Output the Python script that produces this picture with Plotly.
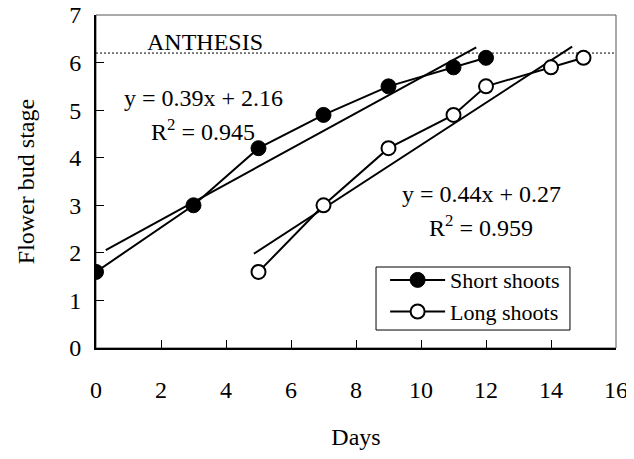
import numpy as np
import plotly.graph_objects as go

short_days = [0, 3, 5, 7, 9, 11, 12]
short_stage = [1.6, 3.0, 4.2, 4.9, 5.5, 5.9, 6.1]
long_days = [5, 7, 9, 11, 12, 14, 15]
long_stage = [1.6, 3.0, 4.2, 4.9, 5.5, 5.9, 6.1]
short_fit_range = [0.3, 11.7]
long_fit_range = [4.86, 14.65]
anthesis_stage = 6.2
x_ticks = list(range(0, 17, 2))
y_ticks = list(range(0, 8))

FONT = "Liberation Serif"

def fit_line(xs, ys, xr):
    k, b = np.polyfit(xs, ys, 1)
    xx = np.array(xr)
    return xx, k * xx + b

fig = go.Figure()

sx, sy = fit_line(short_days, short_stage, short_fit_range)
lx, ly = fit_line(long_days, long_stage, long_fit_range)
fig.add_trace(go.Scatter(x=sx, y=sy, mode="lines", line=dict(color="black", width=2), showlegend=False, hoverinfo="skip"))
fig.add_trace(go.Scatter(x=lx, y=ly, mode="lines", line=dict(color="black", width=2), showlegend=False, hoverinfo="skip"))

fig.add_trace(go.Scatter(
    x=short_days, y=short_stage, mode="lines+markers", name="Short shoots",
    line=dict(color="black", width=2),
    marker=dict(symbol="circle", size=15, color="black", line=dict(color="black", width=1)),
))
fig.add_trace(go.Scatter(
    x=long_days, y=long_stage, mode="lines+markers", name="Long shoots",
    line=dict(color="black", width=2),
    marker=dict(symbol="circle", size=14, color="white", line=dict(color="black", width=2)),
))

fig.add_shape(type="line", xref="x", yref="y", x0=0, x1=16, y0=anthesis_stage, y1=anthesis_stage,
              line=dict(color="black", width=1, dash="2px,2px"), layer="below")
fig.add_shape(type="rect", xref="paper", yref="paper", x0=0, x1=1, y0=0, y1=1,
              line=dict(color="#555555", width=1), layer="below")
# legend frame
fig.add_shape(type="rect", xref="paper", yref="paper", x0=0.5385, x1=0.9115, y0=0.054, y1=0.2432,
              line=dict(color="black", width=1), fillcolor="white", layer="above")

ann_font = dict(family=FONT, size=24, color="black")
fig.add_annotation(x=3.35, y=6.44, text="ANTHESIS", showarrow=False, font=ann_font)
fig.add_annotation(x=3.3, y=5.26, text="y = 0.39x + 2.16", showarrow=False, font=ann_font)
fig.add_annotation(x=3.3, y=4.59, text="R<sup>2</sup> = 0.945", showarrow=False, font=ann_font)
fig.add_annotation(x=11.86, y=3.24, text="y = 0.44x + 0.27", showarrow=False, font=ann_font)
fig.add_annotation(x=11.86, y=2.57, text="R<sup>2</sup> = 0.959", showarrow=False, font=ann_font)

fig.update_layout(
    width=626, height=451,
    margin=dict(l=88, r=18, t=7, b=111, autoexpand=False),
    paper_bgcolor="white", plot_bgcolor="white",
    font=dict(family=FONT, size=24, color="black"),
    legend=dict(x=0.556, y=0.267, xanchor="left", yanchor="top",
                bgcolor="rgba(0,0,0,0)", borderwidth=0,
                font=dict(family=FONT, size=22), tracegroupgap=0, itemwidth=55),
    xaxis=dict(range=[0, 16], tickvals=x_ticks, ticks="inside", ticklen=8, tickcolor="black",
               showline=True, linecolor="black", linewidth=2, showgrid=False, zeroline=False,
               ticklabelstandoff=19, automargin=False, ticklabeloverflow="allow",
               tickfont=dict(family=FONT, size=24),
               title=dict(text="Days", standoff=26, font=dict(family=FONT, size=24))),
    yaxis=dict(range=[0, 7], tickvals=y_ticks, ticks="inside", ticklen=8, tickcolor="black",
               showline=True, linecolor="black", linewidth=2, showgrid=False, zeroline=False,
               ticklabelstandoff=8, automargin=False, ticklabeloverflow="allow",
               tickfont=dict(family=FONT, size=24),
               title=dict(text="Flower bud stage", standoff=28, font=dict(family=FONT, size=24))),
)

fig.write_html("out.html")
